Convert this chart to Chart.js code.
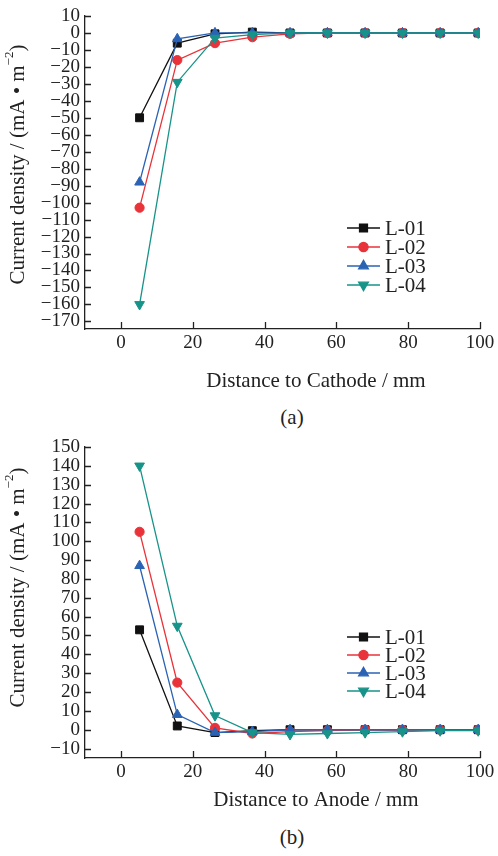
<!DOCTYPE html>
<html>
<head>
<meta charset="utf-8">
<script src="https://cdn.jsdelivr.net/npm/chart.js@4.4.1/dist/chart.umd.min.js"></script>
<style>
  html, body { margin: 0; padding: 0; background: #fff; }
  body { width: 498px; height: 856px; position: relative; overflow: hidden; }
  canvas { position: absolute; left: 0; }
  #chartA { top: 0; }
  #chartB { top: 430px; }
  .sub { position: absolute; left: 262px; width: 60px; text-align: center;
         font: 21px "Liberation Serif", "Times New Roman", serif; color: #222; }
</style>
</head>
<body>
<canvas id="chartA" width="498" height="400"></canvas>
<canvas id="chartB" width="498" height="390"></canvas>
<div class="sub" style="top:405px">(a)</div>
<div class="sub" style="top:825px">(b)</div>
<script>
'use strict';

// distances of the measuring points (mm), shared by both panels
const distances = [5.2, 15.7, 26.2, 36.6, 47.1, 57.5, 68, 78.4, 88.9, 99.5];
const seriesNames = ['L-01', 'L-02', 'L-03', 'L-04'];

// (a) current density vs distance to cathode
const cathodeL01 = [-50, -6, -0.5, 0.5, 0, 0, 0, 0, 0, 0];
const cathodeL02 = [-103, -16, -6, -2.5, -0.5, 0, 0, 0, 0, 0];
const cathodeL03 = [-88, -3.5, 0, 0, 0, 0, 0, 0, 0, 0];
const cathodeL04 = [-160, -29, -3, -1, 0, 0, 0, 0, 0, 0];

// (b) current density vs distance to anode
const anodeL01 = [53, 2, -1.5, -0.5, 0, 0, 0, 0, 0, 0];
const anodeL02 = [105, 25, 1, -2, -1, -0.5, 0, 0, 0, 0];
const anodeL03 = [87, 8, -1.5, -1, 0, 0, 0, 0, 0, 0];
const anodeL04 = [140, 55, 7.5, -1.5, -2.5, -2, -1.5, -1, -0.5, -0.5];

// tick labels
const xTicks = [0, 20, 40, 60, 80, 100];
const cathodeYTicks = [10, 0, -10, -20, -30, -40, -50, -60, -70, -80, -90,
  -100, -110, -120, -130, -140, -150, -160, -170];
const anodeYTicks = [150, 140, 130, 120, 110, 100, 90, 80, 70, 60, 50, 40,
  30, 20, 10, 0, -10];

const FONT = '"Liberation Serif", "Times New Roman", serif';
const INK = '#222';

const styles = [
  { color: '#111111', pointStyle: 'rect', radius: 5.6, rotation: 0 },
  { color: '#e8333a', pointStyle: 'circle', radius: 4.6, rotation: 0 },
  { color: '#2a63b4', pointStyle: 'triangle', radius: 5.6, rotation: 0 },
  { color: '#179389', pointStyle: 'triangle', radius: 5.6, rotation: 180 }
];

// inward tick marks, axis titles and the in-plot legend
const decorPlugin = {
  id: 'decor',
  afterDraw(chart, args, opts) {
    const ctx = chart.ctx;
    const area = chart.chartArea;
    const xs = chart.scales.x, ys = chart.scales.y;
    ctx.save();
    ctx.strokeStyle = INK;
    ctx.lineWidth = 1.3;
    ctx.beginPath();
    ys.ticks.forEach(t => {
      const y = Math.round(ys.getPixelForValue(t.value)) + 0.5;
      ctx.moveTo(area.left, y);
      ctx.lineTo(area.left + 6, y);
    });
    xs.ticks.forEach(t => {
      const x = Math.round(xs.getPixelForValue(t.value)) + 0.5;
      ctx.moveTo(x, area.bottom);
      ctx.lineTo(x, area.bottom - 7);
    });
    ctx.stroke();

    // x title
    ctx.fillStyle = INK;
    ctx.font = '21px ' + FONT;
    ctx.textAlign = 'center';
    ctx.textBaseline = 'middle';
    ctx.fillText(opts.xTitle, opts.xTitleX, opts.xTitleY);

    // y title with superscript, rotated
    const main = 'Current density / (mA \u2022 m';
    const sup = '\u22122';
    ctx.font = '21px ' + FONT;
    const wMain = ctx.measureText(main).width;
    ctx.font = '13px ' + FONT;
    const wSup = ctx.measureText(sup).width;
    ctx.font = '21px ' + FONT;
    const wClose = ctx.measureText(')').width;
    const total = wMain + wSup + wClose;
    const cy = (area.top + area.bottom) / 2 + opts.yTitleShift;
    ctx.translate(18, cy);
    ctx.rotate(-Math.PI / 2);
    ctx.textAlign = 'left';
    let x0 = -total / 2;
    ctx.fillText(main, x0, 0);
    ctx.font = '13px ' + FONT;
    ctx.fillText(sup, x0 + wMain, -8);
    ctx.font = '21px ' + FONT;
    ctx.fillText(')', x0 + wMain + wSup, 0);
    ctx.restore();

    // legend
    ctx.save();
    chart.data.datasets.forEach((ds, i) => {
      const st = styles[i];
      const y = opts.legendY + i * opts.legendStep;
      ctx.strokeStyle = st.color;
      ctx.fillStyle = st.color;
      ctx.lineWidth = 1.3;
      ctx.beginPath();
      ctx.moveTo(347, y);
      ctx.lineTo(380, y);
      ctx.stroke();
      Chart.helpers.drawPoint(ctx, {
        pointStyle: st.pointStyle, radius: st.radius,
        rotation: st.rotation, borderWidth: 1
      }, 363.5, y);
      ctx.fillStyle = INK;
      ctx.font = '21px ' + FONT;
      ctx.textAlign = 'left';
      ctx.textBaseline = 'middle';
      ctx.fillText(ds.label, 385, y + 1);
    });
    ctx.restore();
  }
};

function buildDatasets(valueLists) {
  return valueLists.map((vals, i) => ({
    label: seriesNames[i],
    data: distances.map((d, k) => ({ x: d, y: vals[k] })),
    borderColor: styles[i].color,
    backgroundColor: styles[i].color,
    borderWidth: 1.3,
    pointStyle: styles[i].pointStyle,
    pointRadius: styles[i].radius,
    pointRotation: styles[i].rotation,
    pointBorderWidth: 1,
    order: 4 - i,
    tension: 0
  }));
}

function makeChart(id, valueLists, yTicks, yMin, yMax, xAxisHeight, padTop, decor) {
  return new Chart(document.getElementById(id), {
    type: 'line',
    data: { datasets: buildDatasets(valueLists) },
    options: {
      responsive: false,
      animation: false,
      layout: { padding: { top: padTop, right: 18, left: 0, bottom: 0 } },
      plugins: {
        legend: { display: false },
        tooltip: { enabled: false },
        decor: decor
      },
      scales: {
        x: {
          type: 'linear',
          min: -10,
          max: 100,
          afterBuildTicks: s => { s.ticks = xTicks.map(v => ({ value: v })); },
          afterFit: s => { s.height = xAxisHeight; },
          grid: { display: false, drawTicks: false },
          border: { display: true, color: INK, width: 1.3 },
          ticks: { font: { family: FONT, size: 19 }, color: INK, padding: 3,
                   maxRotation: 0, autoSkip: false }
        },
        y: {
          type: 'linear',
          min: yMin,
          max: yMax,
          afterBuildTicks: s => { s.ticks = yTicks.map(v => ({ value: v })); },
          afterFit: s => { s.width = 85; },
          grid: { display: false, drawTicks: false },
          border: { display: true, color: INK, width: 1.3 },
          ticks: {
            font: { family: FONT, size: 19, lineHeight: 0.9 }, color: INK, padding: 5,
            autoSkip: false,
            callback: v => (v < 0 ? '\u2212' + Math.abs(v) : String(v))
          }
        }
      }
    },
    plugins: [decorPlugin]
  });
}

makeChart('chartA', [cathodeL01, cathodeL02, cathodeL03, cathodeL04],
  cathodeYTicks, -174.5, 10, 71, 16, {
    xTitle: 'Distance to Cathode / mm', xTitleX: 316, xTitleY: 381,
    yTitleShift: -8, legendY: 228, legendStep: 19
  });

makeChart('chartB', [anodeL01, anodeL02, anodeL03, anodeL04],
  anodeYTicks, -15, 150, 62, 17, {
    xTitle: 'Distance to Anode / mm', xTitleX: 316, xTitleY: 370,
    yTitleShift: -15, legendY: 207, legendStep: 18
  });
</script>
</body>
</html>
